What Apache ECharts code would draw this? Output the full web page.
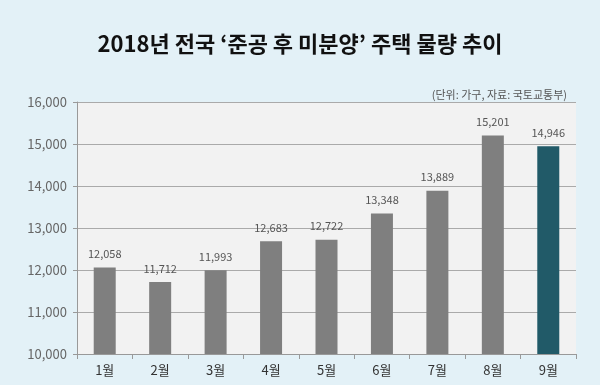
<!DOCTYPE html>
<html><head><meta charset="utf-8">
<script src="https://cdn.jsdelivr.net/npm/echarts@6/dist/echarts.min.js"></script>
<style>html,body{margin:0;padding:0;background:#e3f1f7;}#c{width:600px;height:385px;}</style>
</head><body><div id="c"></div>
<script>
const categories = ['1월','2월','3월','4월','5월','6월','7월','8월','9월'];
const values = [12058, 11712, 11993, 12683, 12722, 13348, 13889, 15201, 14946];
const highlightIndex = 8;
const chart = echarts.init(document.getElementById('c'));
const font = '"Noto Sans CJK KR", "Noto Sans", sans-serif';
chart.setOption({
  backgroundColor: '#e3f1f7',
  textStyle: {fontFamily: font},
  title: [{
    text: "2018년 전국 \u2018준공 후 미분양\u2019 주택 물량 추이",
    left: 'center', top: 28,
    textStyle: {fontSize: 22, fontWeight: 'bold', color: '#111', fontFamily: font}
  }, {
    text: '(단위: 가구, 자료: 국토교통부)',
    right: 28, top: 84,
    textStyle: {fontSize: 11, fontWeight: 'normal', color: '#555', fontFamily: font}
  }],
  grid: {left: 77, right: 24, top: 102, bottom: 31, show: true, backgroundColor: '#f2f2f2', borderWidth: 0},
  xAxis: {
    type: 'category', data: categories,
    axisLine: {lineStyle: {color: '#999'}},
    axisTick: {show: true, alignWithLabel: false, lineStyle: {color: '#999'}},
    axisLabel: {fontSize: 13, color: '#333', margin: 10, fontFamily: font}
  },
  yAxis: {
    type: 'value', min: 10000, max: 16000, interval: 1000,
    axisLine: {show: true, lineStyle: {color: '#999'}},
    axisTick: {show: true, length: 4, lineStyle: {color: '#999'}},
    splitLine: {lineStyle: {color: '#aaa'}},
    axisLabel: {fontSize: 13, color: '#666', margin: 10, fontFamily: font,
      formatter: v => v.toLocaleString('en-US')}
  },
  series: [{
    type: 'bar', barWidth: 22,
    data: values.map((v, i) => ({value: v, itemStyle: {color: i === highlightIndex ? '#215a68' : '#7f7f7f'}})),
    label: {show: true, position: 'top', distance: 8, fontSize: 11, color: '#555', fontFamily: font,
      formatter: p => p.value.toLocaleString('en-US')}
  }]
});
</script></body></html>
